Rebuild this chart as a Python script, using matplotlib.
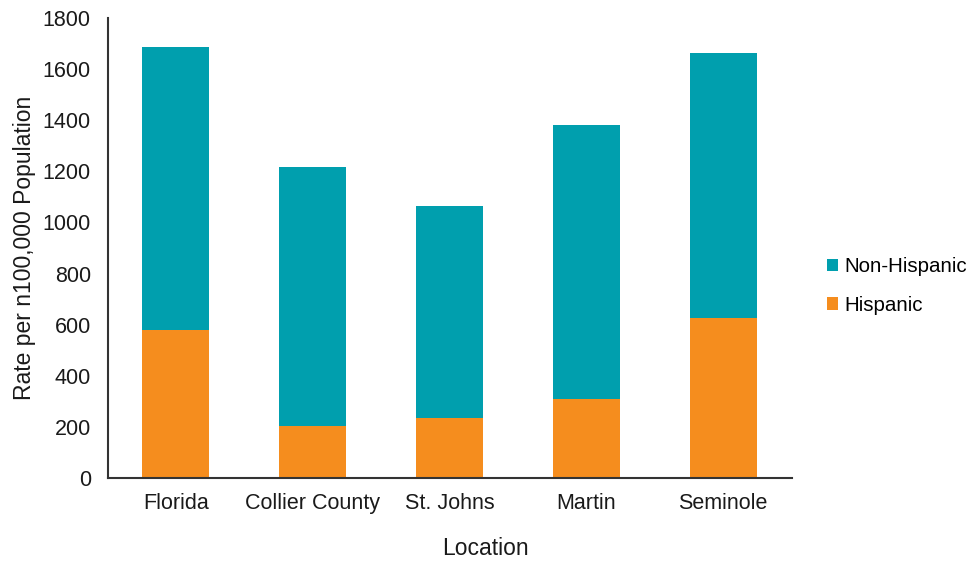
import matplotlib
matplotlib.use("Agg")
import matplotlib.pyplot as plt

plt.rcParams['font.family'] = ['Liberation Sans', 'DejaVu Sans']

locations = ["Florida", "Collier County", "St. Johns", "Martin", "Seminole"]
hispanic = [579, 203, 236, 309, 626]
non_hispanic_total = [1687, 1217, 1065, 1382, 1663]
non_hispanic = [t - h for t, h in zip(non_hispanic_total, hispanic)]
y_ticks = [0, 200, 400, 600, 800, 1000, 1200, 1400, 1600, 1800]

teal = "#009FAE"
orange = "#F58D1E"
text_color = "#1a1a1a"

fig = plt.figure(figsize=(9.77, 5.62), dpi=100)
ax = fig.add_axes([107.5 / 977, 1 - 478 / 562, 684 / 977, 460 / 562])

x = list(range(len(locations)))
b1 = ax.bar(x, hispanic, width=0.49, color=orange, label="Hispanic")
b2 = ax.bar(x, non_hispanic, width=0.49, bottom=hispanic, color=teal, label="Non-Hispanic")

ax.set_xlim(-0.5, len(locations) - 0.5)
ax.set_ylim(0, 1800)
ax.set_yticks(y_ticks)
ax.set_xticks(x)
ax.set_xticklabels(locations)
ax.tick_params(axis='both', length=0, labelsize=15.5, colors=text_color)
ax.tick_params(axis='y', pad=12)
ax.tick_params(axis='x', pad=11)

for side in ("top", "right"):
    ax.spines[side].set_visible(False)
for side in ("left", "bottom"):
    ax.spines[side].set_color("#333333")
    ax.spines[side].set_linewidth(1.5)

ax.set_ylabel("Rate per n100,000 Population", fontsize=16.5, color=text_color)
ax.yaxis.set_label_coords(-71 / 684, 0.5)
ax.set_xlabel("Location", fontsize=16.5, color=text_color)
ax.xaxis.set_label_coords(0.553, -0.128)

fig.legend(handles=[b2, b1], labels=["Non-Hispanic", "Hispanic"],
           loc="center left", bbox_to_anchor=(808 / 977, 1 - 286 / 562),
           frameon=False, fontsize=14.8, handlelength=0.55, handleheight=0.55,
           handletextpad=0.3, labelspacing=0.95)

fig.savefig("out.png", dpi=100)
